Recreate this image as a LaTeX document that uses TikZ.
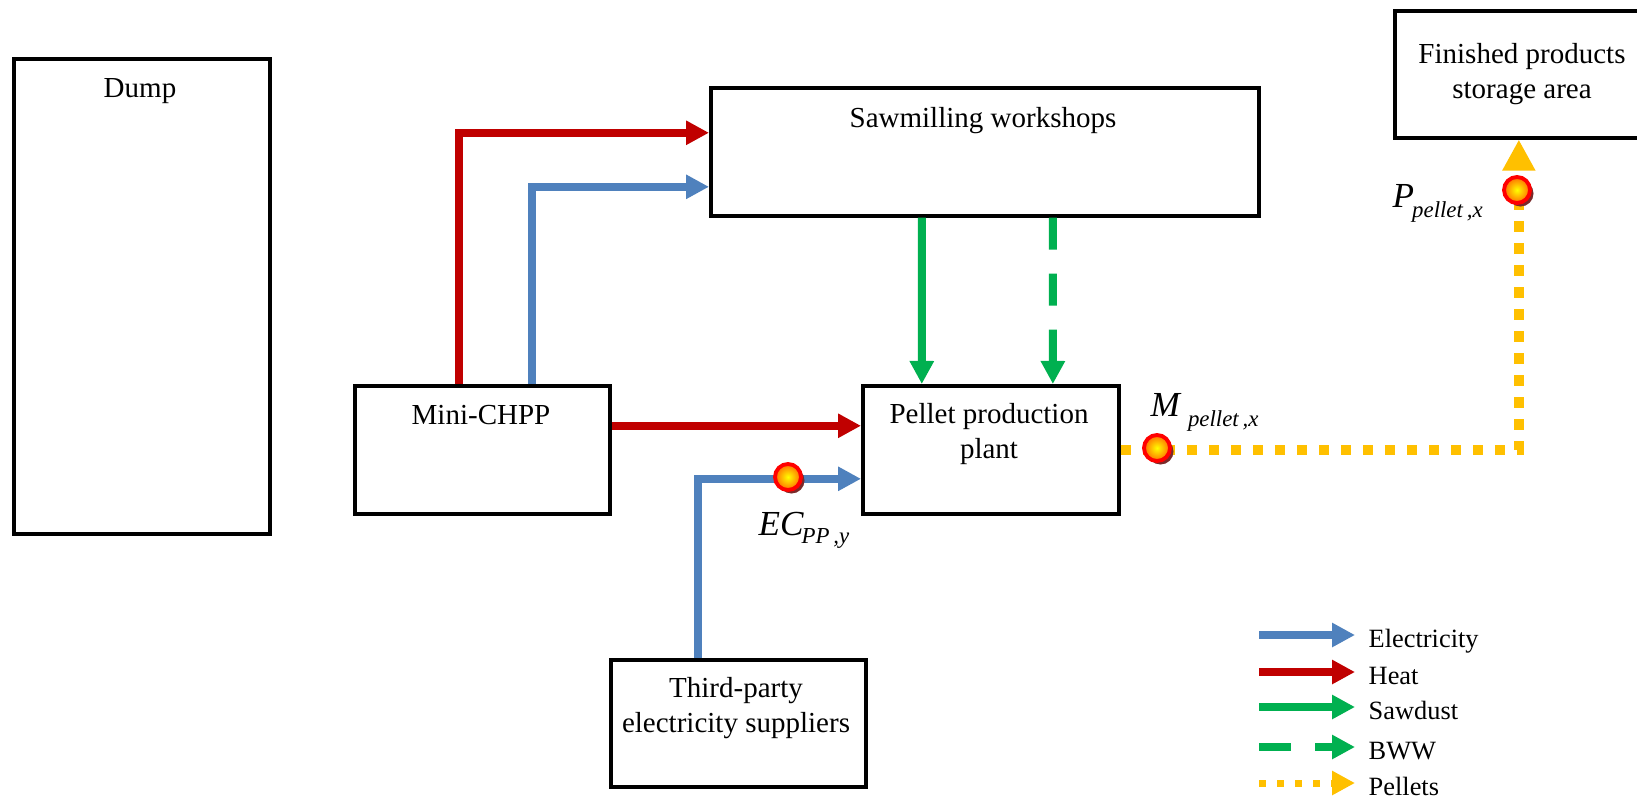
\documentclass[tikz,border=0pt]{standalone}
\usepackage{fontspec}
\setmainfont{Liberation Serif}
\usetikzlibrary{arrows.meta,shadows}
\definecolor{elecC}{HTML}{4F81BD}
\definecolor{heatC}{HTML}{C00000}
\definecolor{greenC}{HTML}{00B050}
\definecolor{pelC}{HTML}{FFC000}
\definecolor{shadowC}{HTML}{7A2A2A}
\newcommand{\msym}[4]{{\fontsize{10}{11}\selectfont\itshape #1}\hspace{#3}\raisebox{-#4}{\fontsize{6.5}{7}\selectfont\itshape #2}}
\begin{document}
\begin{tikzpicture}[x=0.01cm,y=-0.01cm,
  box/.style={draw=black, line width=1pt, rectangle, anchor=north west, inner sep=0pt},
  txt/.style={inner sep=0pt, font=\fontsize{8.25}{9.95}\selectfont, align=center},
  flow/.style={line width=0.08cm, -{Triangle[length=0.23cm,width=0.23cm]}},
  elec/.style={flow, draw=elecC},
  heat/.style={flow, draw=heatC},
  sawd/.style={flow, draw=greenC},
  bww/.style={flow, draw=greenC, dash pattern=on 0.32cm off 0.24cm},
  pell/.style={draw=pelC, line width=0.105cm, dash pattern=on 0.105cm off 0.115cm, -{Triangle[length=0.31cm,width=0.31cm]}},
  pellleg/.style={draw=pelC, line width=0.07cm, dash pattern=on 0.07cm off 0.11cm, -{Triangle[length=0.23cm,width=0.23cm]}},
  meter/.style={circle, inner sep=0pt, minimum size=0.26cm, draw=red, line width=1.1pt, inner color=yellow, outer color=orange!85!red,
    drop shadow={shadow xshift=0.035cm, shadow yshift=-0.035cm, fill=shadowC, opacity=1}},
  sym/.style={inner sep=0pt, anchor=base west},
  leg/.style={inner sep=0pt, anchor=base west, font=\fontsize{7.5}{9}\selectfont}
]
\useasboundingbox[fill=white] (0,0) rectangle (1637,800);

% boxes
\node[box, minimum width=2.56cm, minimum height=4.75cm] (dump) at (12,57) {};
\node[box, minimum width=5.48cm, minimum height=1.28cm] (saw) at (709,86) {};
\node[box, minimum width=2.58cm, minimum height=1.27cm] (fin) at (1393,9) {};
\node[box, minimum width=2.55cm, minimum height=1.28cm] (chpp) at (353,384) {};
\node[box, minimum width=2.56cm, minimum height=1.28cm] (pel) at (861,384) {};
\node[box, minimum width=2.55cm, minimum height=1.27cm] (third) at (609,658) {};

% texts
\node[txt, anchor=base] (dumpT) at (140,97) {Dump};
\node[txt, anchor=base] (sawT) at (983,127) {Sawmilling workshops};
\node[txt] (finT) at (1522,74) {Finished products\\storage area};
\node[txt, anchor=base] (chppT) at (481,424) {Mini-CHPP};
\node[txt] (pelT) at (989,434) {Pellet production\\plant};
\node[txt] (thirdT) at (736,708) {Third-party\\electricity suppliers};

% connectors
\draw[heat] ([xshift=1.06cm]chpp.north west) |- ([yshift=0.19cm]saw.west);
\draw[elec] ([xshift=1.79cm]chpp.north west) |- ([yshift=-0.35cm]saw.west);
\draw[heat] ([yshift=0.24cm]chpp.east) -- ([yshift=0.24cm]pel.west);
\draw[sawd] ([xshift=-0.63cm]saw.south) -- ([xshift=-0.69cm]pel.north);
\draw[bww] ([xshift=0.68cm]saw.south) -- ([xshift=0.62cm]pel.north);
\draw[elec] ([xshift=-0.40cm]third.north) |- ([yshift=-0.29cm]pel.west);
\draw[pell] (pel.east) -| ([xshift=-0.05cm]fin.south);

% metering points
\node[meter] (mEC) at (788,477) {};
\node[meter] (mM) at (1157,448) {};
\node[meter] (mP) at (1517,190) {};

% symbols
\node[sym] (lM) at (1150,416) {\msym{M}{pellet\,,x}{0.08cm}{0.1cm}};
\node[sym] (lP) at (1392,207) {\msym{P}{pellet\,,x}{-0.02cm}{0.1cm}};
\node[sym] (lEC) at (758,535) {\msym{EC}{PP\,,y}{-0.02cm}{0.08cm}};

% legend
\coordinate (la1) at (1259,635); \coordinate (lb1) at (1355,635);
\coordinate (la2) at (1259,672); \coordinate (lb2) at (1355,672);
\coordinate (la3) at (1259,707); \coordinate (lb3) at (1355,707);
\coordinate (la4) at (1259,747); \coordinate (lb4) at (1355,747);
\coordinate (la5) at (1259,783); \coordinate (lb5) at (1355,783);
\draw[elec] (la1) -- (lb1);
\draw[heat] (la2) -- (lb2);
\draw[sawd] (la3) -- (lb3);
\draw[bww] (la4) -- (lb4);
\draw[pellleg] (la5) -- (lb5);
\node[leg] (lt1) at (1368,647) {Electricity};
\node[leg] (lt2) at (1368,684) {Heat};
\node[leg] (lt3) at (1368,719) {Sawdust};
\node[leg] (lt4) at (1368,759) {BWW};
\node[leg] (lt5) at (1368,795) {Pellets};
\end{tikzpicture}
\end{document}
